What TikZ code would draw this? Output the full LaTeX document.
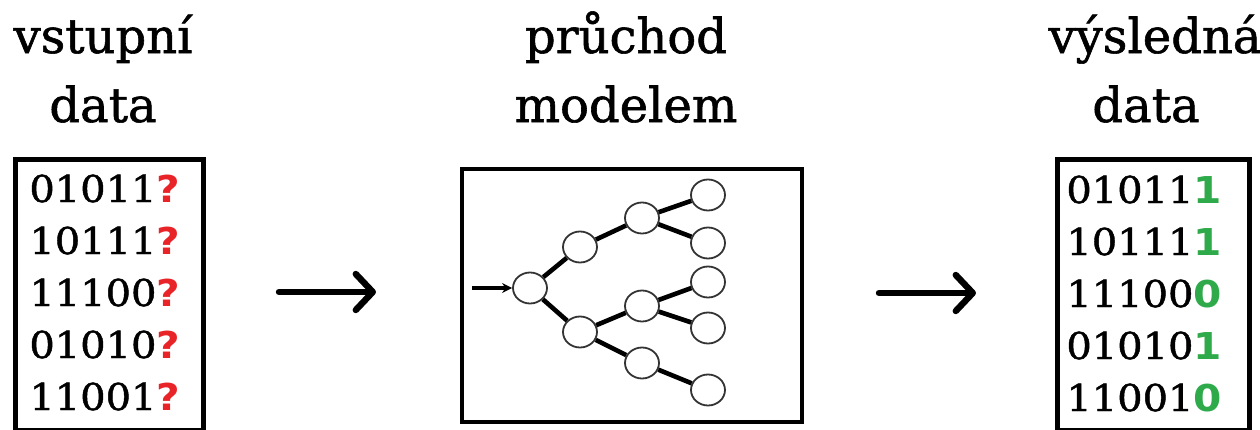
\documentclass[tikz,border=0pt]{standalone}
\usepackage{fontspec}
\setmainfont{DejaVu Serif}[FakeBold=1.2]
\newfontfamily\digfont{DejaVu Serif}[FakeStretch=1.08,FakeBold=1.2]
\newfontfamily\markfont{DejaVu Sans}[FakeStretch=1.1]
\usetikzlibrary{arrows.meta,shapes.geometric}
\definecolor{qred}{RGB}{232,36,40}
\definecolor{okgreen}{RGB}{46,170,74}
\begin{document}
\begin{tikzpicture}[x=0.5pt,y=-0.5pt,
  title/.style={anchor=base,inner sep=0,font=\fontsize{24pt}{28pt}\selectfont},
  datarow/.style={anchor=base west,inner sep=0,font=\digfont\fontsize{18.5pt}{26pt}\selectfont},
  databox/.style={draw,line width=2.5pt,inner sep=0,anchor=north west,minimum width=94pt,minimum height=135.5pt},
  modelbox/.style={draw,line width=2pt,inner sep=0,anchor=north west,minimum width=170pt,minimum height=126.5pt},
  tn/.style={ellipse,draw=black!80,line width=0.9pt,fill=white,minimum width=17pt,minimum height=15.5pt,inner sep=0},
  edge/.style={line width=2.3pt},
  bigarrow/.style={line width=3.2pt,line cap=round,-{Straight Barb[length=8.5pt,width=18pt,round]}},
]
\useasboundingbox (0,0) rectangle (1260,429);
\clip (0,0) rectangle (1260,429);

% titles
\node[title] (t1) at (103,53) {vstupní};
\node[title] (t2) at (103,122) {data};
\node[title] (t3) at (626,53) {průchod};
\node[title] (t4) at (626,122) {modelem};
\node[title] (t5) at (1155,53) {výsledná};
\node[title] (t6) at (1146,122) {data};

% input box
\node[databox] (inbox) at (13,157) {};
\foreach \r/\b [count=\i] in {01011/202,10111/254,11100/306,01010/358,11001/410}
  \node[datarow] (in\i) at (29,\b) {\r\textcolor{qred}{\markfont\bfseries ?}};

% output box
\node[databox,minimum width=96pt] (outbox) at (1055,157) {};
\foreach \r/\v/\b [count=\i] in {01011/1/203,10111/1/255,11100/0/307,01010/1/359,11001/0/411}
  \node[datarow] (out\i) at (1066,\b) {\r\textcolor{okgreen}{\markfont\bfseries \v}};

% model box
\node[modelbox] (model) at (460,167) {};
\node[tn] (r)  at (530,288) {};
\node[tn] (a)  at (580,247) {};
\node[tn] (b)  at (580,332) {};
\node[tn] (c)  at (642,218) {};
\node[tn] (d)  at (642,306) {};
\node[tn] (e)  at (642,363) {};
\node[tn] (l1) at (708,195) {};
\node[tn] (l2) at (708,243) {};
\node[tn] (l3) at (708,282) {};
\node[tn] (l4) at (708,328) {};
\node[tn] (l5) at (708,390) {};
\draw[edge] (r) -- (a);
\draw[edge] (r) -- (b);
\draw[edge] (a) -- (c);
\draw[edge] (b) -- (d);
\draw[edge] (b) -- (e);
\draw[edge] (c) -- (l1);
\draw[edge] (c) -- (l2);
\draw[edge] (d) -- (l3);
\draw[edge] (d) -- (l4);
\draw[edge] (e) -- (l5);
\coordinate (entry) at (472,288);
\draw[line width=1.6pt,-{Stealth[length=5pt,width=5pt]}] (entry) -- (r);

% big arrows
\coordinate (a1s) at (279,292);
\coordinate (a1e) at (376,292);
\coordinate (a2s) at (879,293);
\coordinate (a2e) at (976,293);
\draw[bigarrow] (a1s) -- (a1e);
\draw[bigarrow] (a2s) -- (a2e);
\end{tikzpicture}
\end{document}
